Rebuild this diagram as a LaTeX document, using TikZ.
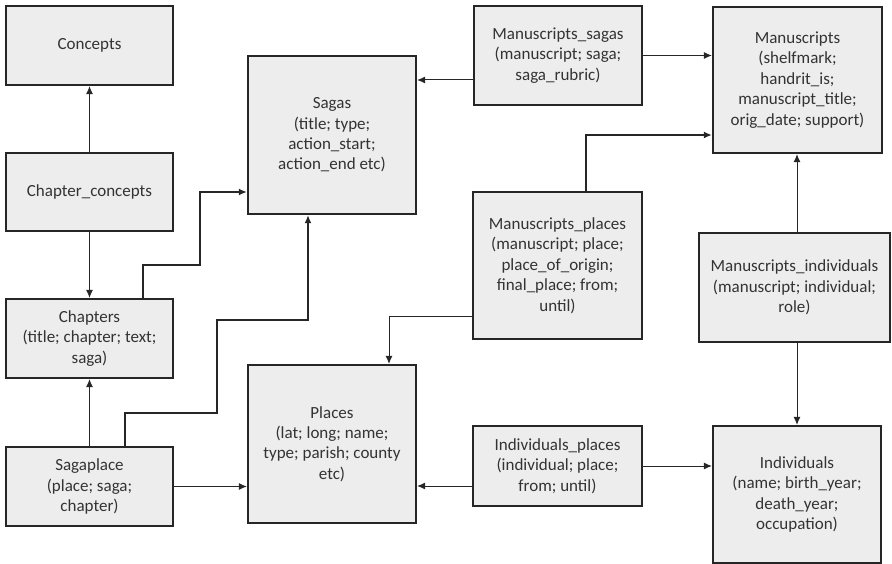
\documentclass[tikz,border=0pt]{standalone}
\usepackage{fontspec}
\setmainfont{Carlito}
\usetikzlibrary{arrows.meta,calc}
\definecolor{boxfill}{HTML}{EDEDED}
\definecolor{boxline}{HTML}{262626}
\definecolor{txt}{HTML}{333333}
\begin{document}
\begin{tikzpicture}[x=1pt,y=-1pt,
  tbl/.style={draw=boxline, line width=2.2pt, fill=boxfill, align=center,
    text=txt, font=\fontsize{17}{20.4}\selectfont, inner sep=2pt},
  conn/.style={draw=boxline, line width=1pt, -{Latex[length=8pt,width=7pt]}},
  thickconn/.style={draw=boxline, line width=2pt, -{Latex[length=8pt,width=7pt]}}]
\useasboundingbox (0,0) rectangle (892,564);

\node[tbl, minimum width=167pt, minimum height=79pt] (concepts) at (89.5,45.5) {Concepts};
\node[tbl, minimum width=167pt, minimum height=78pt] (chconcepts) at (89.5,192) {Chapter\_concepts};
\node[tbl, minimum width=167pt, minimum height=79pt] (chapters) at (89.5,338.5) {Chapters\\(title; chapter; text;\\saga)};
\node[tbl, minimum width=167pt, minimum height=79pt] (sagaplace) at (89.5,486.5) {Sagaplace\\(place; saga;\\chapter)};
\node[tbl, minimum width=168pt, minimum height=158pt] (sagas) at (332,135) {Sagas\\(title; type;\\action\_start;\\action\_end etc)};
\node[tbl, minimum width=168pt, minimum height=158pt] (places) at (332,444) {Places\\(lat; long; name;\\type; parish; county\\etc)};
\node[tbl, minimum width=168pt, minimum height=99pt] (msagas) at (558,55.5) {Manuscripts\_sagas\\(manuscript; saga;\\saga\_rubric)};
\node[tbl, minimum width=169pt, minimum height=147pt] (mplaces) at (557.5,265.5) {Manuscripts\_places\\(manuscript; place;\\place\_of\_origin;\\final\_place; from;\\until)};
\node[tbl, minimum width=169pt, minimum height=80pt] (iplaces) at (557.5,466) {Individuals\_places\\(individual; place;\\from; until)};
\node[tbl, minimum width=169pt, minimum height=146pt] (manuscripts) at (797.5,80) {Manuscripts\\(shelfmark;\\handrit\_is;\\manuscript\_title;\\orig\_date; support)};
\node[tbl, minimum width=191pt, minimum height=109pt] (mindiv) at (794.5,287.5) {Manuscripts\_individuals\\(manuscript; individual;\\role)};
\node[tbl, minimum width=168pt, minimum height=137pt] (individuals) at (797,494.5) {Individuals\\(name; birth\_year;\\death\_year;\\occupation)};

\coordinate (p1) at (143,265);
\coordinate (p2) at (200,192);
\coordinate (q1) at (125,413);
\coordinate (q2) at (217,320);
\coordinate (q3) at (308,320);
\coordinate (r1) at (586,135);
\coordinate (s1) at (389,316);
\coordinate (t1) at (0,80);
\coordinate (u1) at (0,486);
\coordinate (v1) at (797,0);

\draw[conn] (chconcepts.north) -- (concepts.south);
\draw[conn] (chconcepts.south) -- (chapters.north);
\draw[conn] (sagaplace.north) -- (chapters.south);
\draw[conn] (sagaplace.east) -- (places.west |- sagaplace.east);
\draw[thickconn] (chapters.north -| p1) -- (p1) -| (p2) -- (sagas.west |- p2);
\draw[thickconn] (sagaplace.north -| q1) -- (q1) -| (q2) -- (q3) -- (sagas.south -| q3);
\draw[conn] (msagas.west |- t1) -- (sagas.east |- t1);
\draw[conn] (msagas.east) -- (manuscripts.west |- msagas.east);
\draw[thickconn] (mplaces.north -| r1) |- (manuscripts.west |- r1);
\draw[conn] (mplaces.west |- s1) -| (places.north -| s1);
\draw[conn] (mindiv.north -| v1) -- (manuscripts.south -| v1);
\draw[conn] (mindiv.south -| v1) -- (individuals.north -| v1);
\draw[conn] (iplaces.east) -- (individuals.west |- iplaces.east);
\draw[conn] (iplaces.west |- u1) -- (places.east |- u1);
\end{tikzpicture}
\end{document}
